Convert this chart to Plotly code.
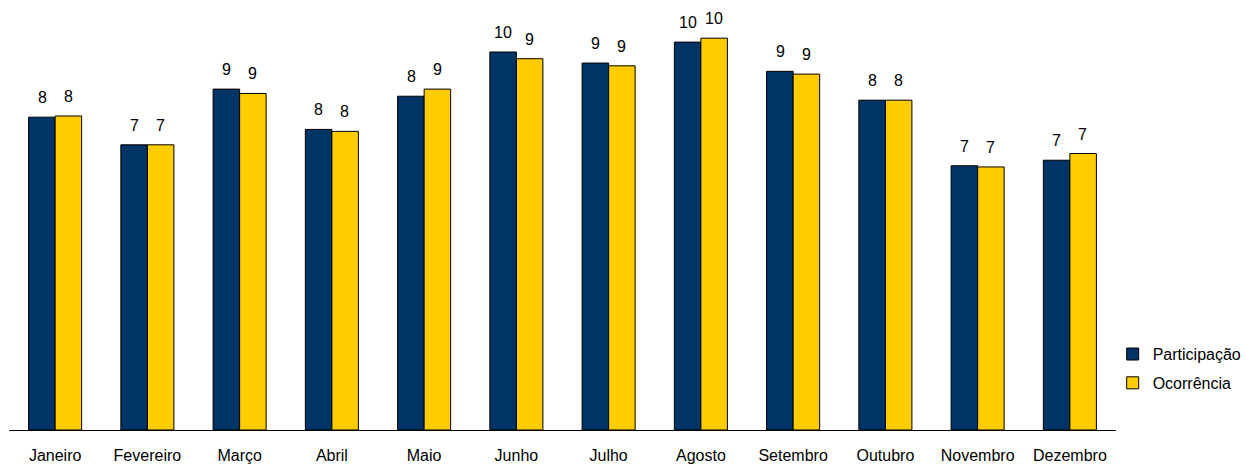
import plotly.graph_objects as go

months = ["Janeiro", "Fevereiro", "Março", "Abril", "Maio", "Junho",
          "Julho", "Agosto", "Setembro", "Outubro", "Novembro", "Dezembro"]
participacao = [7.92, 7.22, 8.63, 7.61, 8.45, 9.57, 9.29, 9.82, 9.08, 8.35, 6.69, 6.83]
ocorrencia = [7.95, 7.22, 8.52, 7.56, 8.63, 9.40, 9.22, 9.92, 9.01, 8.35, 6.66, 7.00]

FONT = "Liberation Sans, Arial, sans-serif"
NAVY = "#003366"
YELLOW = "#FFCC00"
FS = 16

fig = go.Figure()
fig.add_trace(go.Bar(name="Participação", x=months, y=participacao,
                     marker=dict(color=NAVY, line=dict(color="black", width=1)),
                     legendgroup="a"))
fig.add_trace(go.Bar(name="Ocorrência", x=months, y=ocorrencia,
                     marker=dict(color=YELLOW, line=dict(color="black", width=1)),
                     legendgroup="b"))

annotations = []
for series, shift in ((participacao, -13), (ocorrencia, 13)):
    for m, v in zip(months, series):
        annotations.append(dict(x=m, y=v, text=str(round(v)), showarrow=False,
                                xref="x", yref="y", xanchor="center", yanchor="bottom",
                                xshift=shift, yshift=9,
                                font=dict(family=FONT, size=FS, color="black")))

fig.update_layout(
    width=1246, height=465,
    margin=dict(l=9, r=130, t=4, b=35, autoexpand=False),
    paper_bgcolor="white", plot_bgcolor="white",
    barmode="group", bargap=0.425, bargroupgap=0,
    font=dict(family=FONT, size=FS, color="black"),
    showlegend=True,
    legend=dict(xref="container", yref="container", x=0.893, y=0.275,
                xanchor="left", yanchor="top", tracegroupgap=5,
                font=dict(family=FONT, size=FS, color="black"),
                bgcolor="rgba(0,0,0,0)"),
    annotations=annotations,
)
fig.update_xaxes(showline=True, linecolor="black", linewidth=1, showgrid=False,
                 ticks="outside", ticklen=11, tickcolor="rgba(0,0,0,0)",
                 tickfont=dict(family=FONT, size=FS, color="black"), zeroline=False,
                 automargin=False)
fig.update_yaxes(range=[0, 10.785], visible=False, showgrid=False, zeroline=False,
                 automargin=False)

fig.write_html("out.html", config={"displayModeBar": False},
               post_script="document.body.style.margin='0';document.body.style.overflow='hidden';")
